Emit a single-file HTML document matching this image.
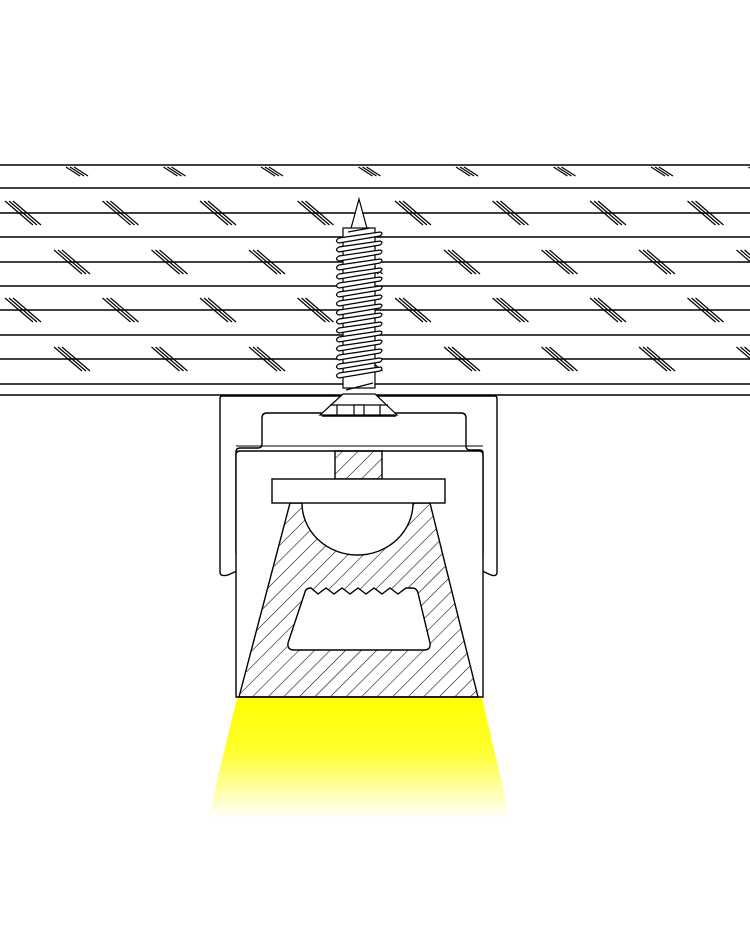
<!DOCTYPE html>
<html><head><meta charset="utf-8"><style>html,body{margin:0;padding:0;background:#fff}svg{display:block}</style></head>
<body>
<svg id="s" width="750" height="930" viewBox="0 0 750 930" xmlns="http://www.w3.org/2000/svg">
<defs>
<pattern id="h" patternUnits="userSpaceOnUse" width="11" height="11" patternTransform="rotate(45)">
<line x1="0" y1="0" x2="0" y2="11" stroke="#000" stroke-width="1.1"/>
</pattern>
<linearGradient id="y" x1="0" y1="0" x2="0" y2="1">
<stop offset="0" stop-color="#ffff00"/><stop offset="0.45" stop-color="#ffff30"/><stop offset="1" stop-color="#ffffff"/>
</linearGradient>
</defs>
<g id="lines" stroke="#000" stroke-width="1.6"></g>
<g id="marks" stroke="#000" stroke-width="1.2"></g>
<polygon points="237,698 482,698 510,818 208,818" fill="url(#y)"/>
<path d="M222,396 H495 Q497,396 497,399 V572 Q497,577 491,575 L480,570 Q476,567 477,562 Q479,556 483,554 V453 Q483,450 480,450 H470 Q466,450 466,446 V418 Q466,413 461,413 H267 Q262,413 262,418 V444 Q262,448 258,448 H240 Q236,448 236,452 V554 Q240,556 242,562 Q243,567 239,570 L228,575 Q220,577 220,572 V399 Q220,396 222,396 Z" fill="#fff" stroke="#000" stroke-width="1.4"/>
<path d="M236,697 V455 Q236,451 240,451 H479 Q483,451 483,455 V697 Z" fill="#fff" stroke="#000" stroke-width="1.4"/>
<line x1="236" y1="446" x2="483" y2="446" stroke="#000" stroke-width="1.1"/>
<path fill-rule="evenodd" d="M290,503 H302 A55.5,52 0 0 0 413,503 H430 L478,697 H239 Z M305,592 Q306,588 311,588 L318,594 L326,588 L334,594 L342,588 L350,594 L358,588 L366,594 L374,588 L382,594 L390,588 L398,594 L406,588 L412,588 Q417,588 418,593 L430,643 Q431,650 424,650 H294 Q287,650 288,643 Z" fill="url(#h)" stroke="#000" stroke-width="1.4"/>
<rect x="335" y="451" width="47" height="28" fill="url(#h)" stroke="#000" stroke-width="1.4"/>
<rect x="272" y="479" width="173" height="24" fill="#fff" stroke="#000" stroke-width="1.4"/>
<g id="screw" stroke="#000" stroke-width="1.2" fill="#fff">
<polygon points="359,199 350,232 368,232"/>
<rect x="343" y="228" width="32" height="160"/>
<polygon points="343,394 375,394 397,415 320,415"/>
<line x1="330" y1="405" x2="388" y2="405"/>
<line x1="337" y1="405" x2="337" y2="415"/>
<line x1="380" y1="405" x2="380" y2="415"/>
<rect x="354" y="405" width="10" height="10"/>
<line x1="322" y1="416" x2="396" y2="416" stroke-width="1.6"/>
</g>
<line x1="0" y1="395" x2="750" y2="395" stroke="#000" stroke-width="1.6"/>
<script>
var ns="http://www.w3.org/2000/svg";
function el(p,t,a){var e=document.createElementNS(ns,t);for(var k in a)e.setAttribute(k,a[k]);p.appendChild(e);return e;}
var L=document.getElementById('lines');
[165,188,213,237,262,286,310,335,359,384].forEach(function(y){el(L,'line',{x1:0,y1:y,x2:750,y2:y});});
var M=document.getElementById('marks');
function grp(x,y,w,h){for(var i=0;i<3;i++){var o=i*4;el(M,'line',{x1:x+o,y1:y,x2:x+o+w,y2:y+h});}}
for(var x=66;x<750;x+=97.5)grp(x,167,14,9);
[201,298].forEach(function(y){for(var x=5;x<750;x+=97.5)grp(x,y,28,24);});
[250,347].forEach(function(y){for(var x=54;x<760;x+=97.5)grp(x,y,28,24);});
var S=document.getElementById('screw');
for(var y=237;y<=375;y+=9){el(S,'path',{d:'M339,'+(y+1)+' Q334,'+(y+4)+' 339,'+(y+6)+' L380,'+(y-1)+' Q384,'+(y-4)+' 380,'+(y-5)+' Z'});}
el(S,'path',{d:'M346,390 L373,383',fill:'none'});
el(S,'path',{d:'M348,232 L370,228',fill:'none'});
var sc=document.getElementById('screw');sc.parentNode.appendChild(sc);
</script>
</svg>
</body></html>
